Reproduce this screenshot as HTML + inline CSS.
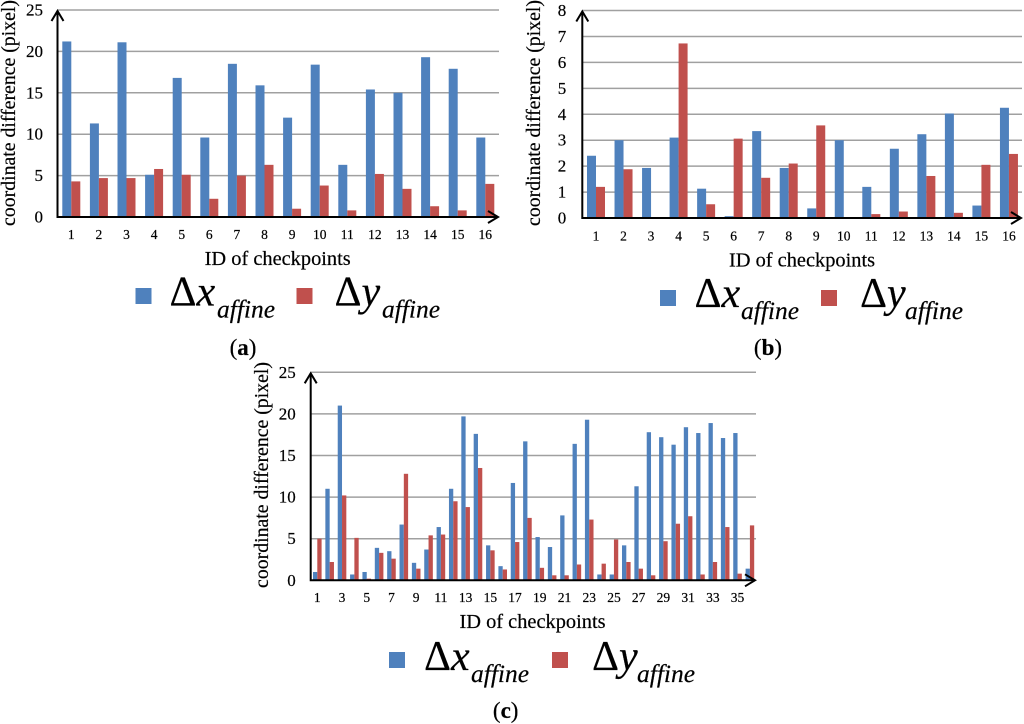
<!DOCTYPE html>
<html lang="en">
<head>
<meta charset="utf-8">
<title>Coordinate difference charts</title>
<style>
html,body{margin:0;padding:0;background:#fff;width:1024px;height:724px;overflow:hidden}
svg{display:block;filter:blur(.3px)}
text{font-family:"Liberation Serif",serif;fill:#000;stroke:#000;stroke-width:.2px}
</style>
</head>
<body>
<svg id="root" xmlns="http://www.w3.org/2000/svg" width="1024" height="724" viewBox="0 0 1024 724"></svg>
<script>
var categoriesA = ["1","2","3","4","5","6","7","8","9","10","11","12","13","14","15","16"];
var dxA = [21.2,11.3,21.1,5.1,16.8,9.6,18.5,15.9,12,18.4,6.3,15.4,15,19.3,17.9,9.6];
var dyA = [4.3,4.7,4.7,5.8,5.1,2.2,5,6.3,1,3.8,0.8,5.2,3.4,1.3,0.8,4];
var yTicksA = [0,5,10,15,20,25];

var categoriesB = ["1","2","3","4","5","6","7","8","9","10","11","12","13","14","15","16"];
var dxB = [2.4,3,1.93,3.1,1.13,0.07,3.35,1.93,0.37,3,1.2,2.67,3.23,4.03,0.48,4.25];
var dyB = [1.2,1.88,0,6.73,0.53,3.06,1.55,2.1,3.57,0,0.15,0.25,1.62,0.2,2.05,2.47];
var yTicksB = [0,1,2,3,4,5,6,7,8];

var categoriesC = ["1","","3","","5","","7","","9","","11","","13","","15","","17","","19","","21","","23","","25","","27","","29","","31","","33","","35",""];
var dxC = [1,11,21,0.7,1,3.9,3.5,6.7,2.1,3.7,6.4,11,19.7,17.6,4.2,1.7,11.7,16.7,5.2,4,7.8,16.4,19.3,0.7,0.7,4.2,11.3,17.8,17.2,16.3,18.4,17.7,18.9,17.1,17.7,1.4];
var dyC = [5,2.2,10.2,5.1,0.2,3.3,2.6,12.8,1.4,5.4,5.5,9.5,8.8,13.5,3.6,1.3,4.6,7.5,1.5,0.6,0.6,1.9,7.3,2,4.9,2.2,1.4,0.6,4.7,6.8,7.7,0.7,2.2,6.4,0.8,6.6];
var yTicksC = [0,5,10,15,20,25];

var NS = "http://www.w3.org/2000/svg";
var root = document.getElementById("root");
var BLUE = "#4f81bd", RED = "#c0504d";

function node(tag, attrs, parent, txt) {
  var e = document.createElementNS(NS, tag);
  for (var k in attrs) e.setAttribute(k, attrs[k]);
  if (txt !== undefined) e.textContent = txt;
  parent.appendChild(e);
  return e;
}

function drawChart(id, g, cats, s1, s2, ticks) {
  var grp = node("g", {}, root);
  
  
  var maxV = ticks[ticks.length - 1];
  function yScale(v) { return g.y0 - (g.y0 - g.yTop) * v / maxV; }
  function xScale(i) { return g.x0 + g.offset + g.step * i; }

  ticks.forEach(function (t) {
    if (t !== 0) {
      var gl = node("line", {x1: g.x0, x2: g.right, y1: yScale(t), y2: yScale(t), stroke: "#a0a0a0", "stroke-width": 1.5}, grp);
      
      
    }
    var tl = node("text", {x: g.x0 - g.tickGap, y: yScale(t) + 5.5, "text-anchor": "end", "font-size": 17}, grp, String(t));
    
    
  });

  cats.forEach(function (c, i) {
    var cx = xScale(i);
    var h1 = g.y0 - yScale(s1[i]), h2 = g.y0 - yScale(s2[i]);
    var b1 = node("rect", {x: cx - g.barW, y: yScale(s1[i]), width: g.barW, height: h1, fill: BLUE}, grp);
    
    
    var b2 = node("rect", {x: cx, y: yScale(s2[i]), width: g.barW, height: h2, fill: RED}, grp);
    
    
    if (c !== "") {
      var xl = node("text", {x: cx, y: g.xLabelY, "text-anchor": "middle", "font-size": 13.5}, grp, c);
      
      
    }
  });

  var ax = node("path", {d: "M" + g.x0 + " " + (g.yTop + 1) + "V" + g.y0 + "H" + (g.right - 1), fill: "none", stroke: "#000", "stroke-width": 2}, grp);
  
  
  var ay = node("path", {d: "M" + (g.x0 - 6) + " " + (g.yTop + 11) + "L" + g.x0 + " " + (g.yTop + 1) + "L" + (g.x0 + 6) + " " + (g.yTop + 11), fill: "none", stroke: "#000", "stroke-width": 2}, grp);
  
  
  var axr = node("path", {d: "M" + (g.right - 11) + " " + (g.y0 - 6) + "L" + (g.right - 1) + " " + g.y0 + "L" + (g.right - 11) + " " + (g.y0 + 6), fill: "none", stroke: "#000", "stroke-width": 2}, grp);
  
  

  var yt = node("text", {transform: "translate(" + g.yTitleX + "," + g.yTitleY + ") rotate(-90)", "text-anchor": "middle", "font-size": 19.8}, grp, "coordinate difference (pixel)");
  
  
  var xt = node("text", {x: g.xTitleX, y: g.xTitleY, "text-anchor": "middle", "font-size": 20.4}, grp, "ID of checkpoints");
  
  

  // legend
  var l = g.legend;
  var s1r = node("rect", {x: l.bx, y: l.sy, width: 16, height: 16, fill: BLUE}, grp);
  
  
  var s2r = node("rect", {x: l.rx, y: l.sy, width: 16, height: 16, fill: RED}, grp);
  
  
  var d1 = node("text", {x: l.d1x, y: l.base, "font-size": 42}, grp, "Δ");
  
  
  var v1 = node("text", {x: l.d1x + 27, y: l.base, "font-size": 42, "font-style": "italic"}, grp, "x");
  
  
  var a1 = node("text", {x: l.s1x, y: l.base + 12, "font-size": 25.5, "font-style": "italic"}, grp, "affine");
  
  
  var d2 = node("text", {x: l.d2x, y: l.base, "font-size": 42}, grp, "Δ");
  
  
  var v2 = node("text", {x: l.d2x + 27, y: l.base, "font-size": 42, "font-style": "italic"}, grp, "y");
  
  
  var a2 = node("text", {x: l.s2x, y: l.base + 12, "font-size": 25.5, "font-style": "italic"}, grp, "affine");
  
  

  // caption
  var cap = node("text", {x: g.capX, y: g.capY, "text-anchor": "middle", "font-size": 23}, grp);
  
  
  node("tspan", {}, cap, "(");
  node("tspan", {"font-weight": "bold"}, cap, id);
  node("tspan", {}, cap, ")");
}

drawChart("a", {x0: 57.5, offset: 13.8, step: 27.6, barW: 9, right: 499, y0: 217, yTop: 10, tickGap: 14.5, xLabelY: 239, yTitleX: 15, yTitleY: 113, xTitleX: 277.7, xTitleY: 265,
  legend: {bx: 135.5, rx: 296.5, sy: 288, d1x: 169.5, d2x: 334.5, s1x: 217, s2x: 382, base: 305.5}, capX: 243, capY: 355}, categoriesA, dxA, dyA, yTicksA);

drawChart("b", {x0: 582.3, offset: 13.7, step: 27.53, barW: 9, right: 1022, y0: 218, yTop: 10.5, tickGap: 16, xLabelY: 240.5, yTitleX: 540, yTitleY: 113, xTitleX: 802, xTitleY: 266.5,
  legend: {bx: 660, rx: 821, sy: 290, d1x: 694.5, d2x: 860, s1x: 741, s2x: 905, base: 307}, capX: 768, capY: 355}, categoriesB, dxB, dyB, yTicksB);

drawChart("c", {x0: 310.7, offset: 6.6, step: 12.36, barW: 4.3, right: 756, y0: 580.3, yTop: 372.3, tickGap: 15, xLabelY: 602, yTitleX: 268, yTitleY: 475, xTitleX: 532.5, xTitleY: 628,
  legend: {bx: 389, rx: 552, sy: 652, d1x: 424, d2x: 592, s1x: 471, s2x: 637, base: 670}, capX: 505.7, capY: 718}, categoriesC, dxC, dyC, yTicksC);
</script>
</body>
</html>
